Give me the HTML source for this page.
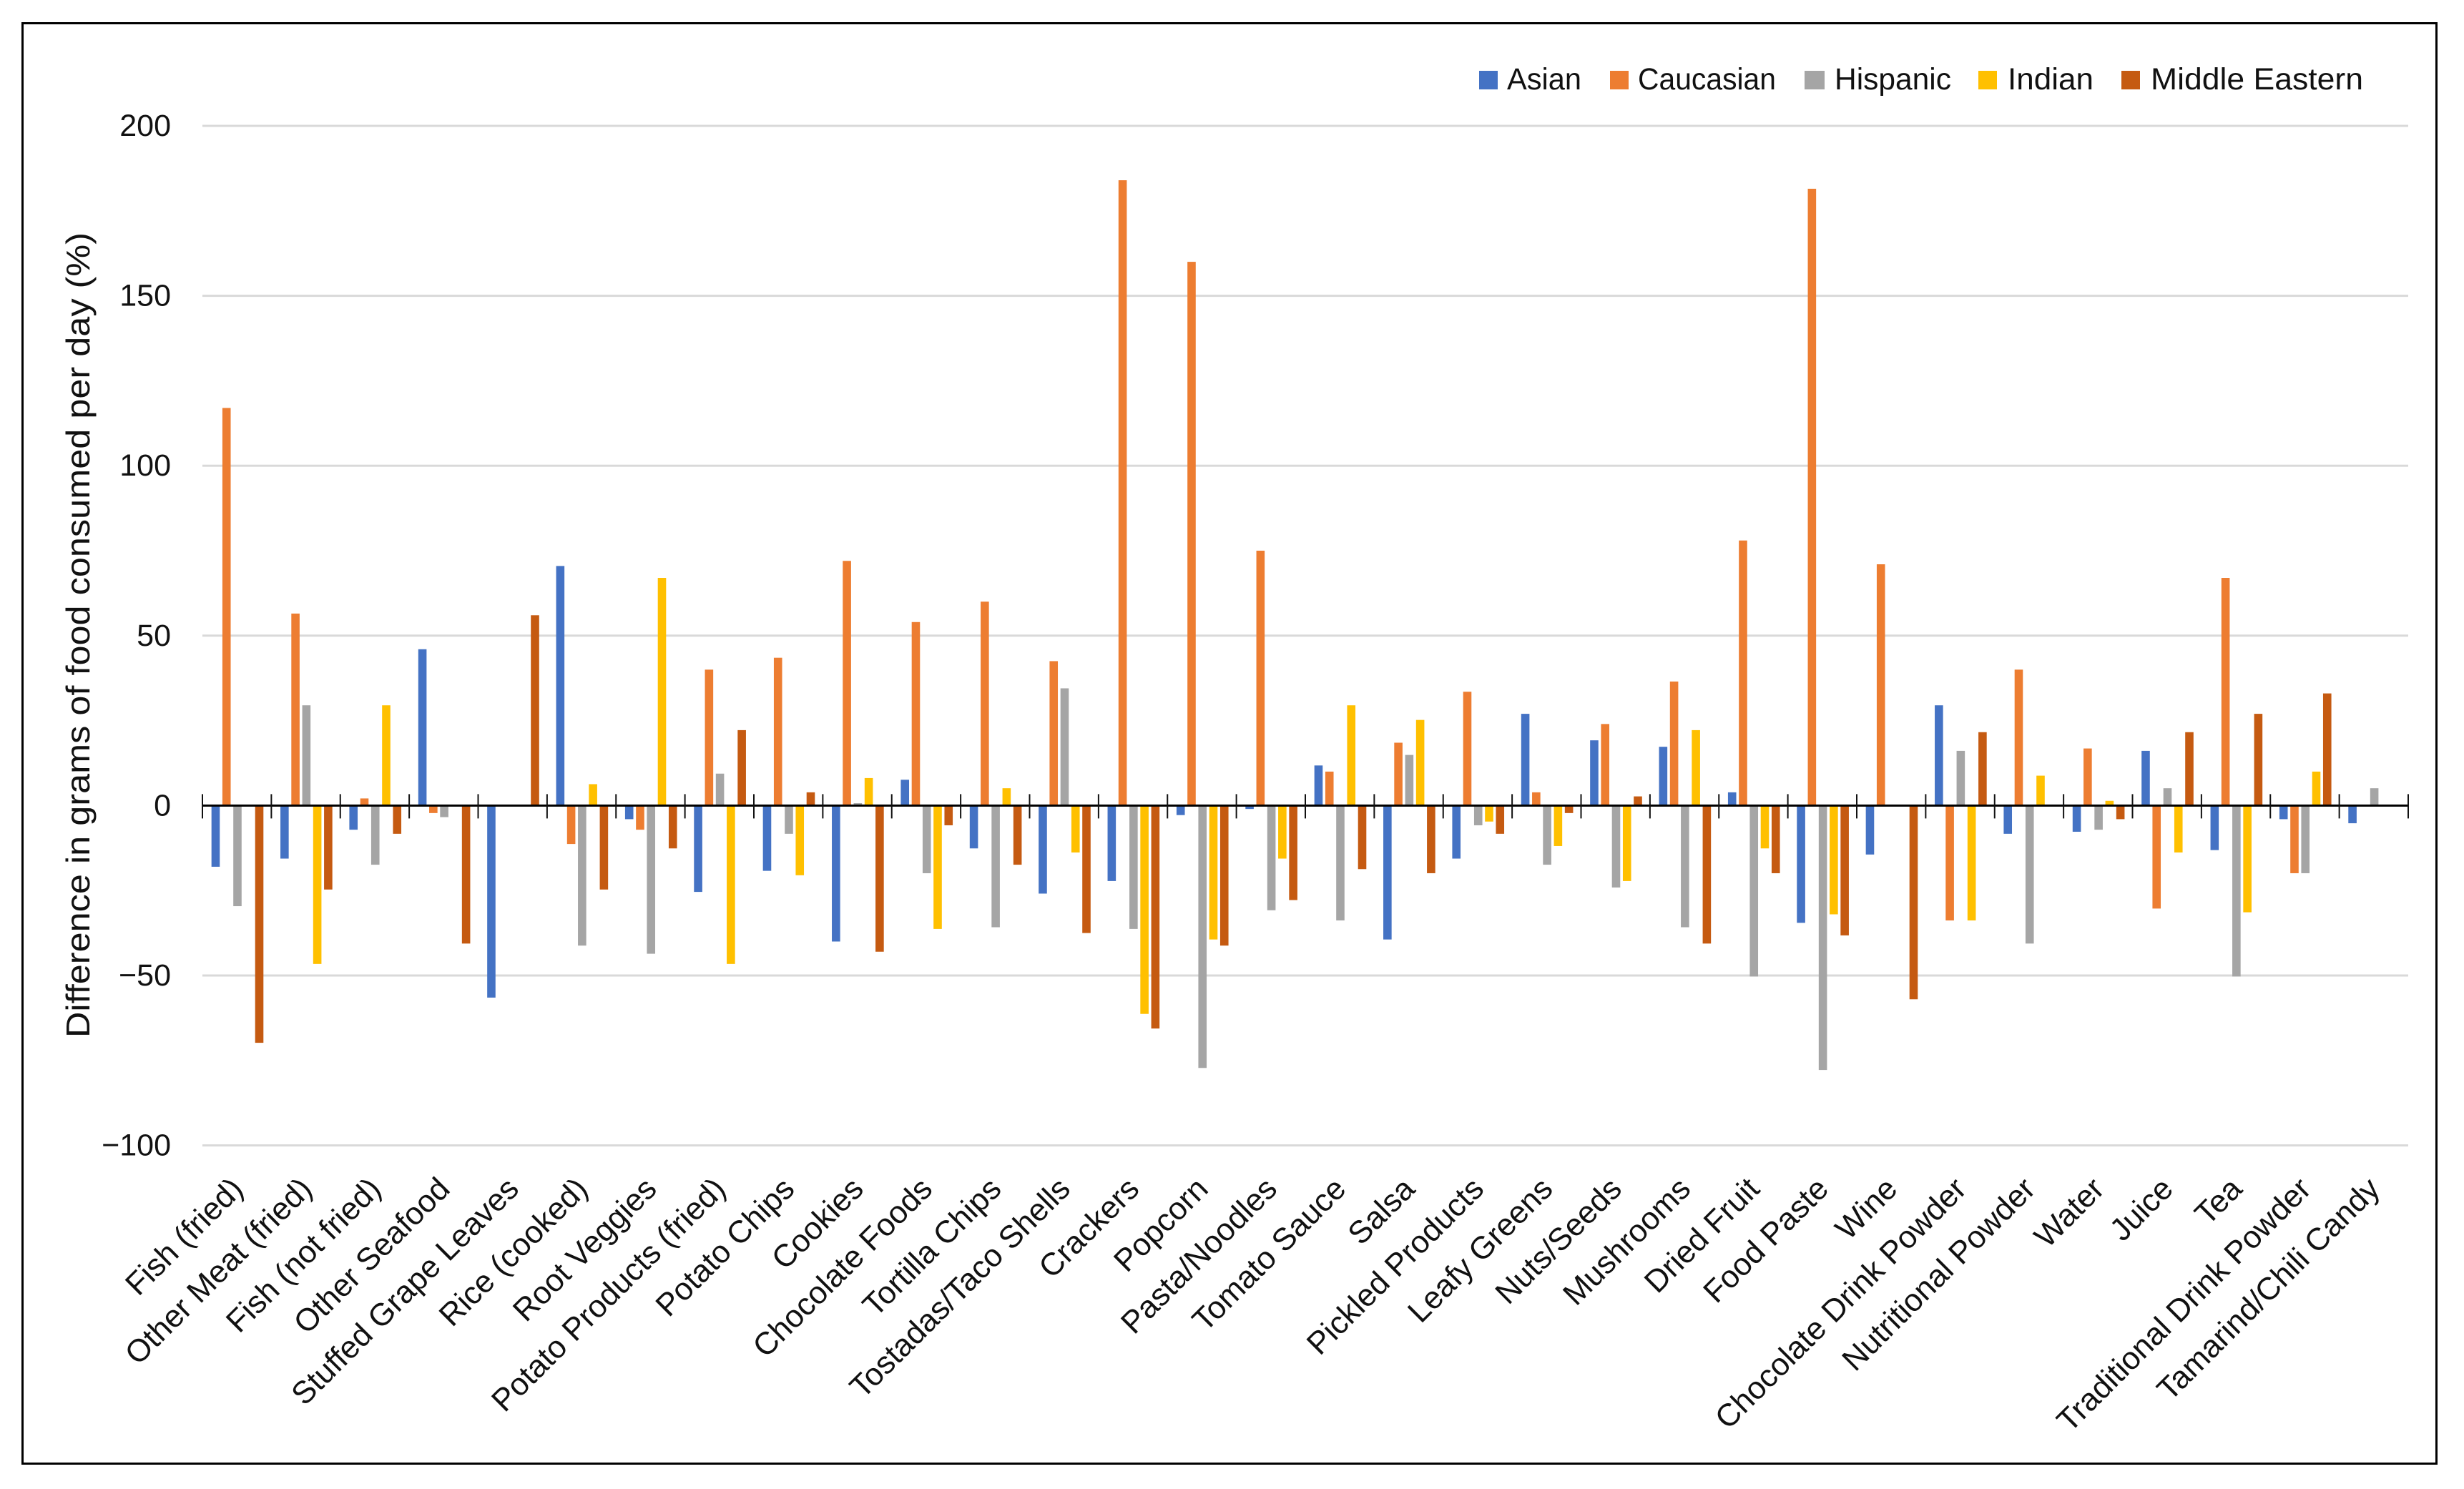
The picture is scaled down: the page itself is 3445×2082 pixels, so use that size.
<!DOCTYPE html>
<html lang="en">
<head>
<meta charset="utf-8">
<title>Difference in grams of food consumed per day</title>
<style>
html,body{margin:0;padding:0;background:#fff;}
svg{display:block;}
text{font-family:"Liberation Sans",sans-serif;fill:#111;}
</style>
</head>
<body>
<svg id="chart" xmlns="http://www.w3.org/2000/svg" width="3445" height="2082" viewBox="0 0 3445 2082">
  <rect x="0" y="0" width="3445" height="2082" fill="#ffffff"/>
  <rect x="31.5" y="32.5" width="3375" height="2014" fill="none" stroke="#000" stroke-width="3"/>
  <g id="grid"></g>
  <g id="bars"></g>
  <g id="axis"></g>
  <g id="ylabels"></g>
  <g id="xlabels"></g>
  <text transform="translate(125 888) rotate(-90)" text-anchor="middle" font-size="46" textLength="1126" lengthAdjust="spacingAndGlyphs">Difference in grams of food consumed per day (%)</text>
  <g>
    <g>
      <rect x="2068" y="99" width="26" height="26" fill="#4472C4"/>
      <text x="2107" y="125" font-size="43" textLength="104" lengthAdjust="spacingAndGlyphs">Asian</text>
    </g>
    <g>
      <rect x="2251" y="99" width="26" height="26" fill="#ED7D31"/>
      <text x="2290" y="125" font-size="43" textLength="193" lengthAdjust="spacingAndGlyphs">Caucasian</text>
    </g>
    <g>
      <rect x="2523" y="99" width="28" height="26" fill="#A5A5A5"/>
      <text x="2565" y="125" font-size="43" textLength="163" lengthAdjust="spacingAndGlyphs">Hispanic</text>
    </g>
    <g>
      <rect x="2766" y="99" width="26" height="26" fill="#FFC000"/>
      <text x="2807" y="125" font-size="43" textLength="120" lengthAdjust="spacingAndGlyphs">Indian</text>
    </g>
    <g>
      <rect x="2966" y="99" width="26" height="26" fill="#C55A11"/>
      <text x="3007" y="125" font-size="43" textLength="297" lengthAdjust="spacingAndGlyphs">Middle Eastern</text>
    </g>
  </g>
</svg>
<script>
const categories = ["Fish (fried)","Other Meat (fried)","Fish (not fried)","Other Seafood","Stuffed Grape Leaves","Rice (cooked)","Root Veggies","Potato Products (fried)","Potato Chips","Cookies","Chocolate Foods","Tortilla Chips","Tostadas/Taco Shells","Crackers","Popcorn","Pasta/Noodles","Tomato Sauce","Salsa","Pickled Products","Leafy Greens","Nuts/Seeds","Mushrooms","Dried Fruit","Food Paste","Wine","Chocolate Drink Powder","Nutritional Powder","Water","Juice","Tea","Traditional Drink Powder","Tamarind/Chili Candy"];
const asian = [-18,-15.6,-7.1,46,-56.5,70.5,-4,-25.4,-19.2,-40,7.6,-12.6,-25.9,-22.2,-2.8,-1,11.8,-39.4,-15.6,27,19.2,17.3,3.9,-34.5,-14.4,29.5,-8.3,-7.7,16.1,-13.1,-4,-5.2];
const caucasian = [117,56.5,2.1,-2.2,0,-11.3,-7.1,40,43.5,72,54,60,42.5,184,160,75,10,18.5,33.5,3.9,24,36.5,78,181.5,71,-33.8,40,16.8,-30.3,67,-19.9,0];
const hispanic = [-29.6,29.5,-17.4,-3.4,0,-41.2,-43.6,9.4,-8.3,0.7,-19.9,-35.8,34.5,-36.3,-77.2,-30.8,-33.8,14.9,-5.8,-17.4,-24.1,-35.8,-50.3,-77.8,0,16.1,-40.6,-7.1,5.1,-50.3,-19.9,5.1];
const indian = [0,-46.6,29.5,0,0,6.3,67,-46.6,-20.5,8.1,-36.3,5.1,-13.8,-61.3,-39.4,-15.6,29.5,25.2,-4.7,-11.9,-22.2,22.2,-12.6,-32,0,-33.8,8.8,1.4,-13.8,-31.4,10,0];
const middleEastern = [-69.8,-24.7,-8.3,-40.6,56,-24.7,-12.6,22.2,3.9,-43,-5.8,-17.4,-37.5,-65.6,-41.2,-27.8,-18.7,-19.9,-8.3,-2.2,2.7,-40.6,-19.9,-38.2,-57,21.6,0,-4,21.6,27,33,0];
const yTicks = [200,150,100,50,0,-50,-100];
const seriesNames = ["asian","caucasian","hispanic","indian","middle-eastern"];
const seriesColors = ["#4472C4","#ED7D31","#A5A5A5","#FFC000","#C55A11"];
const seriesValues = [asian,caucasian,hispanic,indian,middleEastern];

const NS = "http://www.w3.org/2000/svg";
const PLOT_LEFT = 283, PLOT_RIGHT = 3367, ZERO_Y = 1126.4, PX_PER_UNIT = 4.752;
const BAR_W = 11.6, BAR_PITCH = 15.26, BAR_SHIFT = 0.8;
const bandW = (PLOT_RIGHT - PLOT_LEFT) / categories.length;
function xBand(i){ return PLOT_LEFT + i * bandW; }
function yScale(v){ return ZERO_Y - v * PX_PER_UNIT; }
function make(tag, attrs, parent){
  const el = document.createElementNS(NS, tag);
  for (const k in attrs) el.setAttribute(k, attrs[k]);
  parent.appendChild(el);
  return el;
}
const gridG = document.getElementById("grid");
const barsG = document.getElementById("bars");
const axisG = document.getElementById("axis");
const yLabG = document.getElementById("ylabels");
const xLabG = document.getElementById("xlabels");

yTicks.forEach(function(t){
  const y = yScale(t);
  if (t !== 0) {
    const line = make("rect", {x:PLOT_LEFT, y:y-1.5, width:PLOT_RIGHT-PLOT_LEFT, height:3, fill:"#D9D9D9"}, gridG);
    
    
  }
  const label = make("text", {x:239, y:y+14, "text-anchor":"end", "font-size":43}, yLabG);
  
  
  label.textContent = String(t).replace("-", "\u2212");
});

seriesValues.forEach(function(values, s){
  values.forEach(function(v, i){
    const cx = xBand(i) + bandW/2 + (s-2)*BAR_PITCH + BAR_SHIFT;
    const y0 = yScale(Math.max(v,0));
    const y1 = yScale(Math.min(v,0));
    const bar = make("rect", {x:cx-BAR_W/2, y:y0, width:BAR_W, height:y1-y0, fill:seriesColors[s]}, barsG);
    
    
  });
});

const axisLine = make("rect", {x:PLOT_LEFT, y:ZERO_Y-1.5, width:PLOT_RIGHT-PLOT_LEFT, height:3, fill:"#000"}, axisG);


for (let i = 0; i <= categories.length; i++) {
  const tick = make("rect", {x:xBand(i)-1, y:ZERO_Y-16, width:2, height:34, fill:"#111"}, axisG);
  
  
}

categories.forEach(function(c, i){
  const px = xBand(i) + bandW/2 + 11, py = 1665;
  const label = make("text", {x:0, y:0, "text-anchor":"end", "font-size":44, transform:"translate("+px+" "+py+") rotate(-45)"}, xLabG);
  
  
  label.textContent = c;
});
</script>
</body>
</html>
